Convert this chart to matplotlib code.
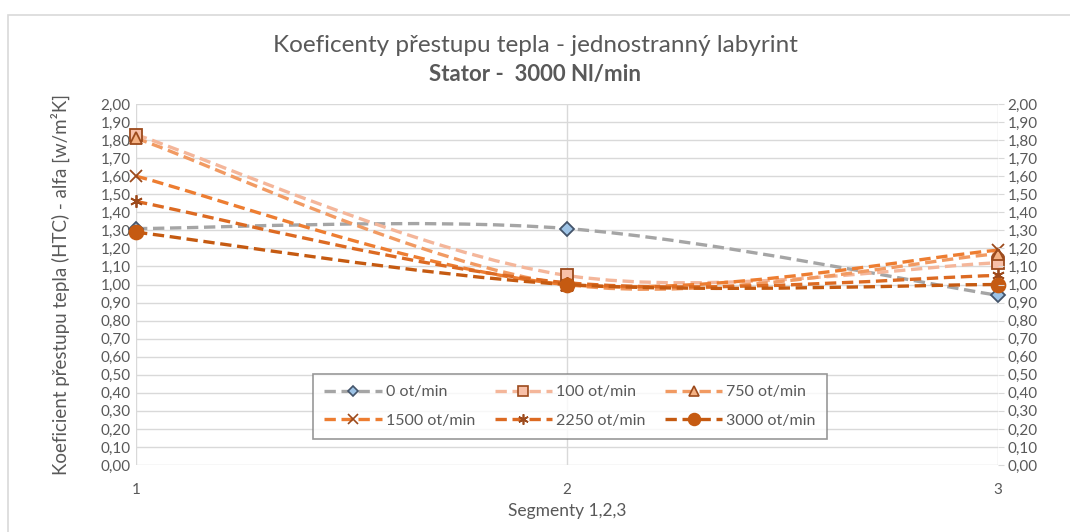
import numpy as np
import matplotlib

matplotlib.use("Agg")
import matplotlib.pyplot as plt
from matplotlib.path import Path
from matplotlib.patches import PathPatch, Rectangle
from matplotlib.lines import Line2D
from matplotlib.ticker import FuncFormatter, MultipleLocator

plt.rcParams["font.family"] = ["Lato", "DejaVu Sans"]

segments = [1, 2, 3]
series_names = ["0 ot/min", "100 ot/min", "750 ot/min", "1500 ot/min", "2250 ot/min", "3000 ot/min"]
htc_0 = [1.31, 1.31, 0.94]
htc_100 = [1.83, 1.05, 1.12]
htc_750 = [1.81, 1.00, 1.17]
htc_1500 = [1.60, 1.00, 1.19]
htc_2250 = [1.46, 1.01, 1.05]
htc_3000 = [1.29, 1.00, 1.00]

styles = [
    dict(color="#a5a5a5", marker="D", mfc="#9dc3e6", mec="#44546a", ms=7),
    dict(color="#f4b69a", marker="s", mfc="#f8c0a8", mec="#9c4a1c", ms=9),
    dict(color="#f19a62", marker="^", mfc="#f4b183", mec="#9c4a1c", ms=9),
    dict(color="#ed7d31", marker="x", mfc="#9c4a1c", mec="#9c4a1c", ms=9),
    dict(color="#dc6a22", marker=(6, 2, 0), mfc="#9c4a1c", mec="#9c4a1c", ms=9),
    dict(color="#c55a11", marker="o", mfc="#c55a11", mec="#c55a11", ms=10),
]
DASH = (3.4, 1.7)
TEXT = "#595959"
GRID = "#d9d9d9"


def smooth_path(xs, ys):
    # Excel-like smoothed line: cubic Bezier with Catmull-Rom control points
    pts = np.column_stack([xs, ys]).astype(float)
    n = len(pts)
    verts = [pts[0]]
    codes = [Path.MOVETO]
    for i in range(n - 1):
        p_prev = pts[max(i - 1, 0)]
        p0 = pts[i]
        p1 = pts[i + 1]
        p_next = pts[min(i + 2, n - 1)]
        c1 = p0 + (p1 - p_prev) / 6.0
        c2 = p1 - (p_next - p0) / 6.0
        verts += [c1, c2, p1]
        codes += [Path.CURVE4] * 3
    return Path(verts, codes)


fig = plt.figure(figsize=(10.7, 5.32), dpi=100)
fig.patches.append(Rectangle((8 / 1070, -0.05), 1.2, (532 - 15) / 532 + 0.05,
                             transform=fig.transFigure, fill=False, edgecolor=GRID, lw=1.2))
ax = fig.add_axes([136 / 1070, 67 / 532, 862 / 1070, 361 / 532])

all_series = [htc_0, htc_100, htc_750, htc_1500, htc_2250, htc_3000]
handles = []
for name, vals, st in zip(series_names, all_series, styles):
    path = smooth_path(segments, vals)
    patch = PathPatch(path, fill=False, edgecolor=st["color"], lw=2.4,
                      linestyle=(0, DASH), capstyle="butt", zorder=3)
    ax.add_patch(patch)
    ax.plot(segments, vals, linestyle="none", marker=st["marker"], markersize=st["ms"],
            markerfacecolor=st["mfc"], markeredgecolor=st["mec"], markeredgewidth=1.3,
            zorder=4, clip_on=False)
    handles.append(Line2D([0], [0], color=st["color"], lw=2.4, dashes=DASH,
                          marker=st["marker"], markersize=st["ms"] - 1.5,
                          markerfacecolor=st["mfc"], markeredgecolor=st["mec"],
                          markeredgewidth=1.2, label=name))

ax.set_xlim(1, 3)
ax.set_ylim(0, 2.0)
ax.set_xticks(segments)
ax.yaxis.set_major_locator(MultipleLocator(0.1))
ax.yaxis.set_major_formatter(FuncFormatter(lambda v, p: f"{v:.2f}".replace(".", ",")))
ax.grid(True, color=GRID, lw=1.0, zorder=0)
ax.set_axisbelow(True)
for sp in ax.spines.values():
    sp.set_visible(False)
ax.tick_params(axis="both", colors=TEXT, labelsize=11, length=0)
ax.tick_params(axis="x", pad=13)
ax.tick_params(axis="y", pad=4)

ax2 = ax.twinx()
ax2.set_ylim(0, 2.0)
ax2.yaxis.set_major_locator(MultipleLocator(0.1))
ax2.yaxis.set_major_formatter(FuncFormatter(lambda v, p: f"{v:.2f}".replace(".", ",")))
for sp in ax2.spines.values():
    sp.set_visible(False)
ax2.tick_params(axis="y", colors=TEXT, labelsize=11, length=4, color=GRID, pad=3)

ax.set_xlabel("Segmenty 1,2,3", color=TEXT, fontsize=12.5, labelpad=4)
ax.set_ylabel("Koeficient přestupu tepla (HTC) - alfa [w/m²K]", color=TEXT, fontsize=13.5,
              labelpad=22)

fig.text(0.5, 1 - 46 / 532, "Koeficenty přestupu tepla - jednostranný labyrint",
         ha="center", va="center", color=TEXT, fontsize=17.5)
fig.text(0.5, 1 - 74 / 532, "Stator -  3000 Nl/min", ha="center", va="center",
         color=TEXT, fontsize=16, fontweight="bold")

# Excel fills the legend row by row; matplotlib goes column by column
order = [0, 3, 1, 4, 2, 5]
leg = ax.legend([handles[i] for i in order], [series_names[i] for i in order],
                ncol=3, loc="center", mode="expand",
                bbox_to_anchor=((305 - 136) / 862, (465 - 443) / 361, 530 / 862, 73 / 361),
                fontsize=11.5, frameon=True, fancybox=False, handlelength=3.6,
                handletextpad=0.25, labelspacing=0.9, borderpad=0.7, columnspacing=1.5)
leg.get_frame().set_edgecolor("#7f7f7f")
leg.get_frame().set_linewidth(1.2)
for t in leg.get_texts():
    t.set_color(TEXT)
leg.set_zorder(5)

fig.savefig("out.png", dpi=100)
